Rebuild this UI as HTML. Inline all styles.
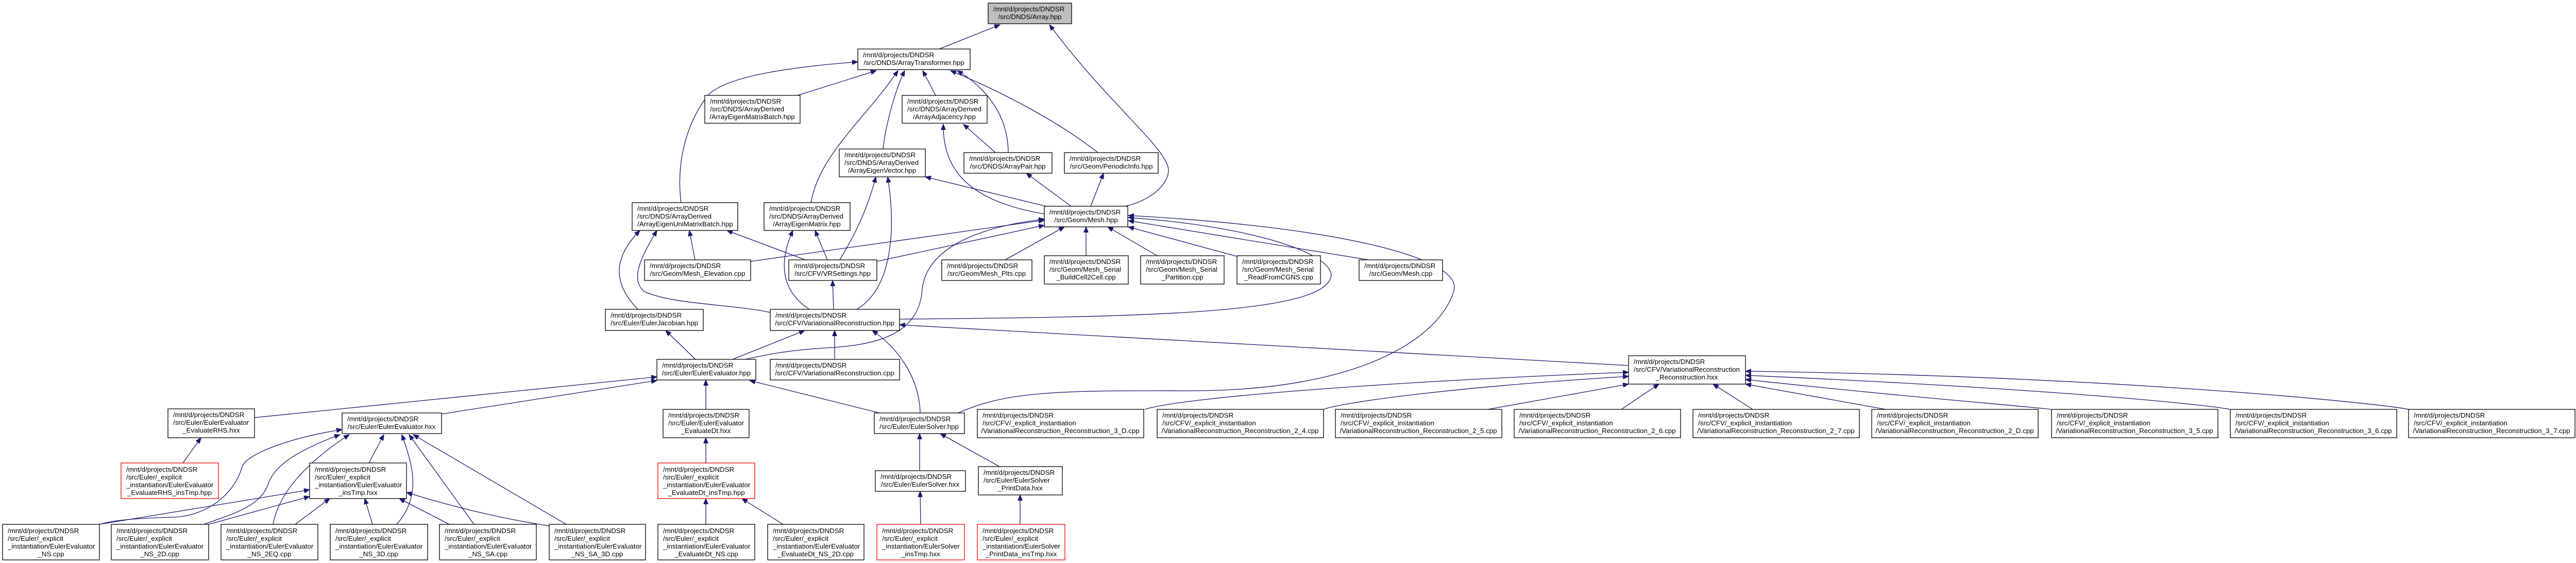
<!DOCTYPE html>
<html><head><meta charset="utf-8">
<style>
html,body{margin:0;padding:0;background:#fff;}
svg{display:block;}
text{font-family:"Liberation Sans",Arial,sans-serif;font-size:13.3px;fill:#000;}
.b{fill:#fff;stroke:#000;stroke-width:1.3;}
.g{fill:#bfbfbf;stroke:#000;stroke-width:1.3;}
.r{fill:#fff;stroke:#ff0000;stroke-width:1.3;}
.e{fill:none;stroke:#191970;stroke-width:1.3;marker-start:url(#ah);}
.m{text-anchor:middle;}
</style></head>
<body>
<svg width="5003" height="1092" viewBox="0 0 5003 1092" xmlns="http://www.w3.org/2000/svg">
<defs>
<marker id="ah" markerUnits="userSpaceOnUse" markerWidth="12" markerHeight="9" refX="11" refY="4.5" orient="auto-start-reverse">
<path d="M0,0 L11,4.5 L0,9 z" fill="#191970" stroke="#191970"/>
</marker>
</defs>

<!-- edges -->
<path class="e" d="M1941,48 L1823,95"/>
<path class="e" d="M2037,48 C2150,200 2268,290 2268,330 C2268,360 2230,390 2184,400"/>
<path class="e" d="M1701,137 L1548,185"/>
<path class="e" d="M1791,137 L1816,185"/>
<path class="e" d="M1756,137 C1735,180 1718,250 1714,289"/>
<path class="e" d="M1743,137 C1680,230 1590,300 1574,393"/>
<path class="e" d="M1665,120 C1560,128 1400,145 1370,190 C1320,260 1315,340 1322,393"/>
<path class="e" d="M1858,137 C1930,180 1957,240 1957,296"/>
<path class="e" d="M1845,137 C1950,180 2060,240 2131,296"/>
<path class="e" d="M1870,241 L1932,296"/>
<path class="e" d="M1831,241 C1830,330 1880,390 2027,415"/>
<path class="e" d="M1796,343 L2030,400"/>
<path class="e" d="M1992,336 L2079,400"/>
<path class="e" d="M2142,336 L2117,400"/>
<path class="e" d="M1338,447 L1349,504"/>
<path class="e" d="M1411,447 L1563,504"/>
<path class="e" d="M1582,447 L1606,504"/>
<path class="e" d="M1700,343 C1680,420 1650,470 1630,504"/>
<path class="e" d="M1242,447 C1200,490 1180,540 1238,600"/>
<path class="e" d="M1275,447 C1250,490 1220,540 1250,565 C1300,590 1420,590 1495,606"/>
<path class="e" d="M2027,427 L1457,507"/>
<path class="e" d="M2027,437 L1702,507"/>
<path class="e" d="M2066,440 L1951,504"/>
<path class="e" d="M2108,440 L2108,496"/>
<path class="e" d="M2150,440 L2246,496"/>
<path class="e" d="M2190,440 L2400,497"/>
<path class="e" d="M2190,428 L2656,504"/>
<path class="e" d="M2027,425 C1900,440 1800,480 1790,560 C1785,650 1700,670 1600,675 C1520,680 1480,690 1446,697"/>
<path class="e" d="M2190,422 C2450,440 2610,500 2580,545 C2540,610 2200,615 1746,619"/>
<path class="e" d="M2190,418 C2600,440 2830,500 2823,560 C2800,650 2650,760 2300,758 C2050,757 1950,760 1860,801"/>
<path class="e" d="M1723,343 C1740,450 1730,560 1663,600"/>
<path class="e" d="M1539,447 C1515,500 1510,560 1571,600"/>
<path class="e" d="M1616,544 L1618,600"/>
<path class="e" d="M1292,641 L1350,697"/>
<path class="e" d="M1562,641 L1422,697"/>
<path class="e" d="M1620,641 L1620,697"/>
<path class="e" d="M1746,630 L3161,709"/>
<path class="e" d="M1693,641 C1750,680 1785,740 1786,801"/>
<path class="e" d="M1455,738 L1707,801"/>
<path class="e" d="M1370,737 L1370,794"/>
<path class="e" d="M1275,731 L494,810"/>
<path class="e" d="M1275,738 L857,803"/>
<path class="e" d="M1370,849 L1370,898"/>
<path class="e" d="M1370,967 L1370,1017"/>
<path class="e" d="M1440,967 L1520,1017"/>
<path class="e" d="M1785,841 L1785,913"/>
<path class="e" d="M1825,841 L1940,905"/>
<path class="e" d="M1786,953 L1787,1017"/>
<path class="e" d="M1980,960 L1980,1017"/>
<path class="e" d="M390,849 L355,898"/>
<path class="e" d="M745,843 L716,898"/>
<!-- reconstruction fan -->
<path class="e" d="M3161,722 C2700,740 2300,770 2222,794"/>
<path class="e" d="M3161,730 C2800,752 2600,782 2569,794"/>
<path class="e" d="M3161,745 L2888,794"/>
<path class="e" d="M3220,745 L3147,794"/>
<path class="e" d="M3325,745 L3402,794"/>
<path class="e" d="M3388,745 L3660,794"/>
<path class="e" d="M3388,736 C3700,770 3900,785 3982,794"/>
<path class="e" d="M3388,728 C3900,750 4250,780 4329,794"/>
<path class="e" d="M3388,720 C4100,730 4600,780 4675,794"/>
<!-- bottom to EEX -->
<path class="e" d="M664,833 C560,850 480,880 470,905 C455,960 400,1000 340,1003 C260,1005 210,1010 192,1018"/>
<path class="e" d="M660,843 C560,880 530,910 520,940 C505,985 440,1000 396,1017"/>
<path class="e" d="M678,843 C590,900 540,960 530,1017"/>
<path class="e" d="M780,843 C800,900 820,960 770,1017"/>
<path class="e" d="M794,843 L920,1017"/>
<path class="e" d="M802,843 L1099,1017"/>
<!-- bottom to EEI -->
<path class="e" d="M601,950 L193,1017"/>
<path class="e" d="M601,963 L405,1017"/>
<path class="e" d="M640,967 L573,1017"/>
<path class="e" d="M708,967 L723,1017"/>
<path class="e" d="M775,967 L872,1017"/>
<path class="e" d="M789,955 C900,990 1000,1010 1066,1020"/>

<!-- nodes -->
<rect class="g" x="1918" y="6" width="162" height="40"/>
<text x="1928" y="22">/mnt/d/projects/DNDSR</text><text class="m" x="1999" y="37">/src/DNDS/Array.hpp</text>

<rect class="b" x="1665" y="95" width="218" height="40"/>
<text x="1675" y="111">/mnt/d/projects/DNDSR</text><text class="m" x="1774" y="126">/src/DNDS/ArrayTransformer.hpp</text>

<rect class="b" x="1368" y="185" width="185" height="54"/>
<text x="1378" y="201">/mnt/d/projects/DNDSR</text><text x="1378" y="216">/src/DNDS/ArrayDerived</text><text class="m" x="1460" y="231">/ArrayEigenMatrixBatch.hpp</text>

<rect class="b" x="1751" y="185" width="165" height="54"/>
<text x="1761" y="201">/mnt/d/projects/DNDSR</text><text x="1761" y="216">/src/DNDS/ArrayDerived</text><text class="m" x="1833" y="231">/ArrayAdjacency.hpp</text>

<rect class="b" x="1629" y="289" width="167" height="54"/>
<text x="1639" y="305">/mnt/d/projects/DNDSR</text><text x="1639" y="320">/src/DNDS/ArrayDerived</text><text class="m" x="1712" y="335">/ArrayEigenVector.hpp</text>

<rect class="b" x="1871" y="296" width="171" height="40"/>
<text x="1881" y="312">/mnt/d/projects/DNDSR</text><text class="m" x="1956" y="327">/src/DNDS/ArrayPair.hpp</text>

<rect class="b" x="2066" y="296" width="182" height="40"/>
<text x="2076" y="312">/mnt/d/projects/DNDSR</text><text class="m" x="2157" y="327">/src/Geom/PeriodicInfo.hpp</text>

<rect class="b" x="1227" y="393" width="205" height="54"/>
<text x="1237" y="409">/mnt/d/projects/DNDSR</text><text x="1237" y="424">/src/DNDS/ArrayDerived</text><text class="m" x="1330" y="439">/ArrayEigenUniMatrixBatch.hpp</text>

<rect class="b" x="1483" y="393" width="167" height="54"/>
<text x="1493" y="409">/mnt/d/projects/DNDSR</text><text x="1493" y="424">/src/DNDS/ArrayDerived</text><text class="m" x="1566" y="439">/ArrayEigenMatrix.hpp</text>

<rect class="b" x="2027" y="400" width="162" height="40"/>
<text x="2037" y="416">/mnt/d/projects/DNDSR</text><text class="m" x="2108" y="431">/src/Geom/Mesh.hpp</text>

<rect class="b" x="1251" y="504" width="206" height="40"/>
<text x="1261" y="520">/mnt/d/projects/DNDSR</text><text class="m" x="1354" y="535">/src/Geom/Mesh_Elevation.cpp</text>

<rect class="b" x="1531" y="504" width="171" height="40"/>
<text x="1541" y="520">/mnt/d/projects/DNDSR</text><text class="m" x="1616" y="535">/src/CFV/VRSettings.hpp</text>

<rect class="b" x="1828" y="504" width="175" height="40"/>
<text x="1838" y="520">/mnt/d/projects/DNDSR</text><text class="m" x="1915" y="535">/src/Geom/Mesh_Plts.cpp</text>

<rect class="b" x="2027" y="496" width="163" height="55"/>
<text x="2037" y="512">/mnt/d/projects/DNDSR</text><text x="2037" y="527">/src/Geom/Mesh_Serial</text><text class="m" x="2108" y="542">_BuildCell2Cell.cpp</text>

<rect class="b" x="2214" y="496" width="162" height="55"/>
<text x="2224" y="512">/mnt/d/projects/DNDSR</text><text x="2224" y="527">/src/Geom/Mesh_Serial</text><text class="m" x="2295" y="542">_Partition.cpp</text>

<rect class="b" x="2401" y="496" width="162" height="55"/>
<text x="2411" y="512">/mnt/d/projects/DNDSR</text><text x="2411" y="527">/src/Geom/Mesh_Serial</text><text class="m" x="2482" y="542">_ReadFromCGNS.cpp</text>

<rect class="b" x="2638" y="504" width="162" height="40"/>
<text x="2648" y="520">/mnt/d/projects/DNDSR</text><text class="m" x="2719" y="535">/src/Geom/Mesh.cpp</text>

<rect class="b" x="1175" y="600" width="190" height="41"/>
<text x="1185" y="616">/mnt/d/projects/DNDSR</text><text class="m" x="1270" y="631">/src/Euler/EulerJacobian.hpp</text>

<rect class="b" x="1495" y="600" width="251" height="41"/>
<text x="1505" y="616">/mnt/d/projects/DNDSR</text><text class="m" x="1620" y="631">/src/CFV/VariationalReconstruction.hpp</text>

<rect class="b" x="1275" y="697" width="192" height="40"/>
<text x="1285" y="713">/mnt/d/projects/DNDSR</text><text class="m" x="1371" y="728">/src/Euler/EulerEvaluator.hpp</text>

<rect class="b" x="1495" y="697" width="251" height="40"/>
<text x="1505" y="713">/mnt/d/projects/DNDSR</text><text class="m" x="1620" y="728">/src/CFV/VariationalReconstruction.cpp</text>

<rect class="b" x="3161" y="690" width="227" height="55"/>
<text x="3171" y="706">/mnt/d/projects/DNDSR</text><text x="3171" y="721">/src/CFV/VariationalReconstruction</text><text class="m" x="3274" y="736">_Reconstruction.hxx</text>

<rect class="b" x="326" y="793" width="168" height="56"/>
<text x="336" y="809">/mnt/d/projects/DNDSR</text><text x="336" y="824">/src/Euler/EulerEvaluator</text><text class="m" x="410" y="839">_EvaluateRHS.hxx</text>

<rect class="b" x="664" y="801" width="193" height="40"/>
<text x="674" y="817">/mnt/d/projects/DNDSR</text><text class="m" x="760" y="832">/src/Euler/EulerEvaluator.hxx</text>

<rect class="b" x="1287" y="794" width="167" height="55"/>
<text x="1297" y="810">/mnt/d/projects/DNDSR</text><text x="1297" y="825">/src/Euler/EulerEvaluator</text><text class="m" x="1370" y="840">_EvaluateDt.hxx</text>

<rect class="b" x="1697" y="801" width="175" height="40"/>
<text x="1707" y="817">/mnt/d/projects/DNDSR</text><text class="m" x="1784" y="832">/src/Euler/EulerSolver.hpp</text>

<!-- explicit instantiation reconstruction files -->
<rect class="b" x="1897" y="794" width="323" height="55"/>
<text x="1907" y="810">/mnt/d/projects/DNDSR</text><text x="1907" y="825">/src/CFV/_explicit_instantiation</text><text class="m" x="2058" y="840">/VariationalReconstruction_Reconstruction_3_D.cpp</text>
<rect class="b" x="2246" y="794" width="323" height="55"/>
<text x="2256" y="810">/mnt/d/projects/DNDSR</text><text x="2256" y="825">/src/CFV/_explicit_instantiation</text><text class="m" x="2407" y="840">/VariationalReconstruction_Reconstruction_2_4.cpp</text>
<rect class="b" x="2592" y="794" width="323" height="55"/>
<text x="2602" y="810">/mnt/d/projects/DNDSR</text><text x="2602" y="825">/src/CFV/_explicit_instantiation</text><text class="m" x="2753" y="840">/VariationalReconstruction_Reconstruction_2_5.cpp</text>
<rect class="b" x="2939" y="794" width="323" height="55"/>
<text x="2949" y="810">/mnt/d/projects/DNDSR</text><text x="2949" y="825">/src/CFV/_explicit_instantiation</text><text class="m" x="3100" y="840">/VariationalReconstruction_Reconstruction_2_6.cpp</text>
<rect class="b" x="3286" y="794" width="323" height="55"/>
<text x="3296" y="810">/mnt/d/projects/DNDSR</text><text x="3296" y="825">/src/CFV/_explicit_instantiation</text><text class="m" x="3447" y="840">/VariationalReconstruction_Reconstruction_2_7.cpp</text>
<rect class="b" x="3633" y="794" width="323" height="55"/>
<text x="3643" y="810">/mnt/d/projects/DNDSR</text><text x="3643" y="825">/src/CFV/_explicit_instantiation</text><text class="m" x="3794" y="840">/VariationalReconstruction_Reconstruction_2_D.cpp</text>
<rect class="b" x="3982" y="794" width="323" height="55"/>
<text x="3992" y="810">/mnt/d/projects/DNDSR</text><text x="3992" y="825">/src/CFV/_explicit_instantiation</text><text class="m" x="4143" y="840">/VariationalReconstruction_Reconstruction_3_5.cpp</text>
<rect class="b" x="4329" y="794" width="323" height="55"/>
<text x="4339" y="810">/mnt/d/projects/DNDSR</text><text x="4339" y="825">/src/CFV/_explicit_instantiation</text><text class="m" x="4490" y="840">/VariationalReconstruction_Reconstruction_3_6.cpp</text>
<rect class="b" x="4675" y="794" width="323" height="55"/>
<text x="4685" y="810">/mnt/d/projects/DNDSR</text><text x="4685" y="825">/src/CFV/_explicit_instantiation</text><text class="m" x="4836" y="840">/VariationalReconstruction_Reconstruction_3_7.cpp</text>

<rect class="r" x="235" y="898" width="189" height="69"/>
<text x="245" y="915">/mnt/d/projects/DNDSR</text><text x="245" y="930">/src/Euler/_explicit</text><text x="245" y="945">_instantiation/EulerEvaluator</text><text class="m" x="329" y="960">_EvaluateRHS_insTmp.hpp</text>

<rect class="b" x="601" y="898" width="188" height="69"/>
<text x="611" y="915">/mnt/d/projects/DNDSR</text><text x="611" y="930">/src/Euler/_explicit</text><text x="611" y="945">_instantiation/EulerEvaluator</text><text class="m" x="695" y="960">_insTmp.hxx</text>

<rect class="r" x="1277" y="898" width="188" height="69"/>
<text x="1287" y="915">/mnt/d/projects/DNDSR</text><text x="1287" y="930">/src/Euler/_explicit</text><text x="1287" y="945">_instantiation/EulerEvaluator</text><text class="m" x="1371" y="960">_EvaluateDt_insTmp.hpp</text>

<rect class="b" x="1699" y="913" width="175" height="40"/>
<text x="1709" y="929">/mnt/d/projects/DNDSR</text><text class="m" x="1786" y="944">/src/Euler/EulerSolver.hxx</text>

<rect class="b" x="1899" y="905" width="163" height="55"/>
<text x="1909" y="921">/mnt/d/projects/DNDSR</text><text x="1909" y="936">/src/Euler/EulerSolver</text><text class="m" x="1980" y="951">_PrintData.hxx</text>

<!-- bottom row -->
<rect class="b" x="5" y="1017" width="188" height="69"/>
<text x="15" y="1034">/mnt/d/projects/DNDSR</text><text x="15" y="1049">/src/Euler/_explicit</text><text x="15" y="1064">_instantiation/EulerEvaluator</text><text class="m" x="99" y="1079">_NS.cpp</text>
<rect class="b" x="216" y="1017" width="189" height="69"/>
<text x="226" y="1034">/mnt/d/projects/DNDSR</text><text x="226" y="1049">/src/Euler/_explicit</text><text x="226" y="1064">_instantiation/EulerEvaluator</text><text class="m" x="310" y="1079">_NS_2D.cpp</text>
<rect class="b" x="429" y="1017" width="188" height="69"/>
<text x="439" y="1034">/mnt/d/projects/DNDSR</text><text x="439" y="1049">/src/Euler/_explicit</text><text x="439" y="1064">_instantiation/EulerEvaluator</text><text class="m" x="523" y="1079">_NS_2EQ.cpp</text>
<rect class="b" x="641" y="1017" width="189" height="69"/>
<text x="651" y="1034">/mnt/d/projects/DNDSR</text><text x="651" y="1049">/src/Euler/_explicit</text><text x="651" y="1064">_instantiation/EulerEvaluator</text><text class="m" x="735" y="1079">_NS_3D.cpp</text>
<rect class="b" x="853" y="1017" width="188" height="69"/>
<text x="863" y="1034">/mnt/d/projects/DNDSR</text><text x="863" y="1049">/src/Euler/_explicit</text><text x="863" y="1064">_instantiation/EulerEvaluator</text><text class="m" x="947" y="1079">_NS_SA.cpp</text>
<rect class="b" x="1066" y="1017" width="187" height="69"/>
<text x="1076" y="1034">/mnt/d/projects/DNDSR</text><text x="1076" y="1049">/src/Euler/_explicit</text><text x="1076" y="1064">_instantiation/EulerEvaluator</text><text class="m" x="1159" y="1079">_NS_SA_3D.cpp</text>
<rect class="b" x="1277" y="1017" width="188" height="69"/>
<text x="1287" y="1034">/mnt/d/projects/DNDSR</text><text x="1287" y="1049">/src/Euler/_explicit</text><text x="1287" y="1064">_instantiation/EulerEvaluator</text><text class="m" x="1371" y="1079">_EvaluateDt_NS.cpp</text>
<rect class="b" x="1490" y="1017" width="187" height="69"/>
<text x="1500" y="1034">/mnt/d/projects/DNDSR</text><text x="1500" y="1049">/src/Euler/_explicit</text><text x="1500" y="1064">_instantiation/EulerEvaluator</text><text class="m" x="1583" y="1079">_EvaluateDt_NS_2D.cpp</text>
<rect class="r" x="1702" y="1017" width="170" height="69"/>
<text x="1712" y="1034">/mnt/d/projects/DNDSR</text><text x="1712" y="1049">/src/Euler/_explicit</text><text x="1712" y="1064">_instantiation/EulerSolver</text><text class="m" x="1787" y="1079">_insTmp.hxx</text>
<rect class="r" x="1897" y="1017" width="170" height="69"/>
<text x="1907" y="1034">/mnt/d/projects/DNDSR</text><text x="1907" y="1049">/src/Euler/_explicit</text><text x="1907" y="1064">_instantiation/EulerSolver</text><text class="m" x="1982" y="1079">_PrintData_insTmp.hxx</text>
</svg>
</body></html>
